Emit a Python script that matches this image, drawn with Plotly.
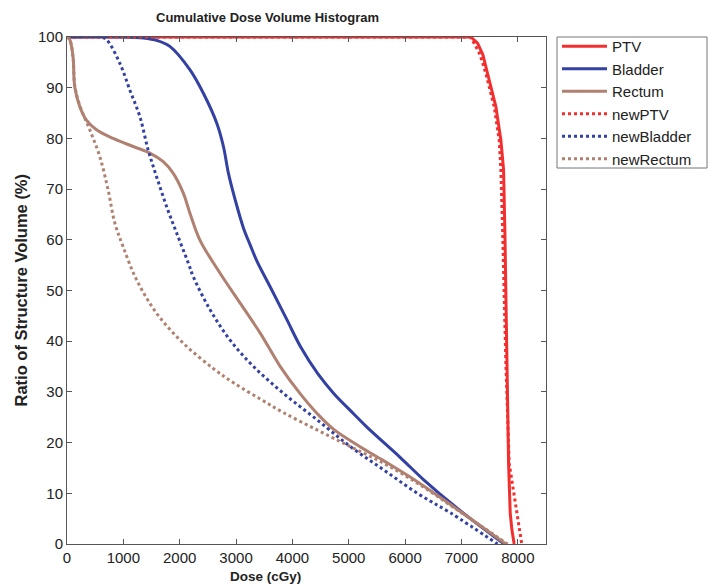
import plotly.graph_objects as go

# ---- data (dose in cGy, volume ratio in %) ----
ptv_x = [0, 7165, 7285, 7380, 7463, 7610, 7699, 7747, 7770, 7801, 7836, 7865, 7895, 7935]
ptv_y = [100, 100, 98.8, 96.5, 92.8, 86.3, 79.7, 73.8, 61.9, 35.6, 15.9, 6.1, 2.8, 0]

bladder_x = [0, 1000, 1352, 1600, 1831, 2183, 2420, 2658, 2776, 2865, 2984, 3132, 3250, 3370, 3607, 3904, 4150, 4450, 4733, 5030, 5327, 5920, 6335, 6929, 7758]
bladder_y = [100, 100, 99.8, 99.3, 98.1, 93.5, 88.9, 83.0, 78.4, 73.1, 67.9, 62.3, 59.0, 55.8, 50.7, 44.2, 38.8, 33.6, 29.7, 26.3, 23.0, 17.0, 12.6, 7.0, 0]

rectum_x = [0, 48, 107, 137, 226, 345, 523, 819, 1174, 1470, 1708, 1886, 2064, 2183, 2361, 2717, 3073, 3429, 3785, 4141, 4450, 4733, 5200, 5623, 6217, 6929, 7788]
rectum_y = [100, 99.5, 96.1, 90.2, 86.3, 83.6, 81.7, 80.0, 78.4, 77.1, 75.4, 73.1, 69.2, 65.2, 59.9, 53.4, 47.5, 41.6, 35.0, 29.6, 25.6, 22.6, 19.2, 16.4, 12.3, 6.8, 0]

newptv_x = [0, 7150, 7224, 7330, 7433, 7580, 7669, 7699, 7730, 7788, 7847, 7936, 8007, 8070]
newptv_y = [100, 100, 98.8, 96.5, 92.8, 86.3, 79.7, 73.8, 61.9, 35.6, 15.9, 9.3, 4.7, 0]

newbladder_x = [0, 600, 700, 938, 1116, 1293, 1441, 1591, 1769, 1947, 2153, 2242, 2539, 2895, 3310, 3843, 4438, 5030, 5623, 6217, 6810, 7640]
newbladder_y = [100, 100, 99.5, 94.8, 89.5, 84.3, 77.7, 72.4, 66.5, 61.3, 55.4, 52.7, 46.2, 40.2, 35.0, 29.7, 24.5, 19.2, 14.6, 10.0, 6.1, 0]

newrectum_x = [0, 48, 107, 137, 226, 404, 582, 730, 849, 997, 1235, 1591, 2064, 2598, 2954, 3429, 3843, 4438, 5030, 5623, 6217, 6929, 7818]
newrectum_y = [100, 99.5, 96.0, 90.5, 86.5, 81.7, 76.4, 69.8, 63.3, 58.6, 52.1, 45.5, 39.6, 34.6, 31.8, 28.6, 25.9, 22.5, 19.2, 15.9, 12.0, 6.7, 0]

x_ticks = [0, 1000, 2000, 3000, 4000, 5000, 6000, 7000, 8000]
y_ticks = [0, 10, 20, 30, 40, 50, 60, 70, 80, 90, 100]

RED = "#f22f2f"
BLUE = "#3341a3"
BROWN = "#b08070"

series = [
    ("PTV", ptv_x, ptv_y, RED, "solid"),
    ("Bladder", bladder_x, bladder_y, BLUE, "solid"),
    ("Rectum", rectum_x, rectum_y, BROWN, "solid"),
    ("newPTV", newptv_x, newptv_y, RED, "dot"),
    ("newBladder", newbladder_x, newbladder_y, BLUE, "dot"),
    ("newRectum", newrectum_x, newrectum_y, BROWN, "dot"),
]

fig = go.Figure()
for name, xs, ys, col, dash in series:
    fig.add_trace(go.Scatter(
        x=xs, y=ys, name=name, mode="lines",
        line=dict(color=col, width=3, dash=dash,
                  shape="linear" if "PTV" in name else "spline", smoothing=1.0),
    ))

FONT = "Liberation Sans, Arial, Helvetica, sans-serif"
PW, PH = 479, 507  # plot area size in px
fig.update_layout(
    width=709, height=588,
    margin=dict(l=67, r=163, t=37, b=44),
    paper_bgcolor="white", plot_bgcolor="white",
    font=dict(family=FONT, size=15, color="#222"),
    showlegend=True,
    legend=dict(x=(557 - 67) / PW, y=1 + 7 / PH, xanchor="left", yanchor="top",
                borderwidth=0, bgcolor="rgba(0,0,0,0)",
                font=dict(size=15, family=FONT, color="#222"),
                tracegroupgap=0, itemwidth=45),
    shapes=[dict(type="rect", xref="paper", yref="paper",
                 x0=(557 - 67) / PW, x1=(707 - 67) / PW,
                 y0=1 - (168 - 37) / PH, y1=1.0,
                 line=dict(color="#777", width=1), fillcolor="rgba(0,0,0,0)",
                 layer="below")],
    xaxis=dict(range=[0, 8500], tickvals=x_ticks, ticktext=[str(v) for v in x_ticks],
               ticks="inside", ticklen=5, tickcolor="#555", showline=True,
               linecolor="#555", linewidth=1, mirror="ticks", showgrid=False,
               zeroline=False, tickfont=dict(size=15)),
    yaxis=dict(range=[0, 100], tickvals=y_ticks, ticktext=[str(v) for v in y_ticks],
               ticks="inside", ticklen=5, tickcolor="#555", showline=True,
               linecolor="#555", linewidth=1, mirror="ticks", showgrid=False,
               zeroline=False, tickfont=dict(size=15)),
    annotations=[
        dict(text="<b>Cumulative Dose Volume Histogram</b>",
             x=(267 - 67) / PW, y=1 + (37 - 17) / PH,
             xref="paper", yref="paper", xanchor="center", yanchor="middle",
             showarrow=False, font=dict(size=13)),
        dict(text="<b>Dose (cGy)</b>", x=(265 - 67) / PW, y=-(576 - 544) / PH,
             xref="paper", yref="paper",
             xanchor="center", yanchor="middle", showarrow=False, font=dict(size=13.5)),
        dict(text="<b>Ratio of Structure Volume (%)</b>", x=-(67 - 20) / PW, y=0.5,
             xref="paper", yref="paper", textangle=-90, xanchor="center",
             yanchor="middle", showarrow=False, font=dict(size=16.5)),
    ],
)

fig.write_html("out.html")
